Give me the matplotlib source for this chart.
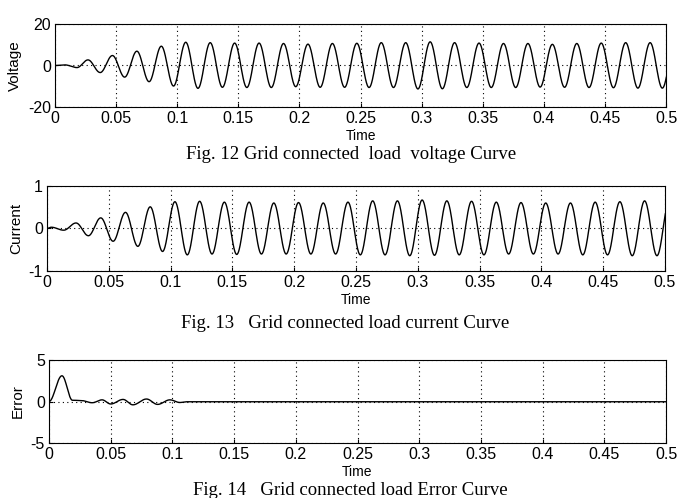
import numpy as np
import matplotlib
matplotlib.use('Agg')
import matplotlib.pyplot as plt

# extrema (time, value); curve drawn as half-cosines between them
volt_t = [0.0, 0.008, 0.018, 0.027, 0.037, 0.047, 0.057, 0.067, 0.077, 0.087, 0.097,
          0.107, 0.117, 0.127, 0.137, 0.147, 0.157, 0.167, 0.177, 0.187, 0.197,
          0.207, 0.217, 0.227, 0.237, 0.247, 0.257, 0.267, 0.277, 0.287, 0.297,
          0.307, 0.317, 0.327, 0.337, 0.347, 0.357, 0.367, 0.377, 0.387, 0.397,
          0.407, 0.417, 0.427, 0.437, 0.447, 0.457, 0.467, 0.477, 0.487, 0.497, 0.507]
volt_v = [0.0, 0.3, -1.0, 2.7, -3.4, 4.8, -5.6, 6.9, -7.8, 9.3, -9.9,
          11.2, -11.0, 11.0, -10.5, 10.8, -10.6, 10.8, -10.6, 10.6, -10.2,
          10.3, -10.5, 10.6, -10.5, 10.7, -10.6, 11.0, -10.6, 11.0, -11.3,
          11.4, -11.2, 11.0, -10.6, 10.8, -10.6, 10.6, -10.6, 10.6, -10.4,
          10.2, -10.5, 10.6, -10.6, 10.8, -10.7, 11.0, -10.9, 11.0, -10.9, 11.0]

curr_t = [0.0, 0.0035, 0.0135, 0.0235, 0.0335, 0.0435, 0.0535, 0.0635, 0.0735, 0.0835, 0.0935,
          0.1035, 0.1135, 0.1235, 0.1335, 0.1435, 0.1535, 0.1635, 0.1735, 0.1835, 0.1935,
          0.2035, 0.2135, 0.2235, 0.2335, 0.2435, 0.2535, 0.2635, 0.2735, 0.2835, 0.2935,
          0.3035, 0.3135, 0.3235, 0.3335, 0.3435, 0.3535, 0.3635, 0.3735, 0.3835, 0.3935,
          0.4035, 0.4135, 0.4235, 0.4335, 0.4435, 0.4535, 0.4635, 0.4735, 0.4835, 0.4935, 0.5035]
curr_v = [0.0, 0.03, -0.04, 0.13, -0.17, 0.25, -0.30, 0.38, -0.42, 0.51, -0.54,
          0.63, -0.62, 0.64, -0.60, 0.62, -0.61, 0.62, -0.60, 0.60, -0.60,
          0.61, -0.60, 0.60, -0.60, 0.62, -0.62, 0.65, -0.62, 0.65, -0.64,
          0.67, -0.63, 0.65, -0.62, 0.64, -0.62, 0.62, -0.60, 0.61, -0.60,
          0.60, -0.60, 0.60, -0.62, 0.62, -0.62, 0.63, -0.64, 0.65, -0.64, 0.65]

err_t = [0.0, 0.0105, 0.019, 0.026, 0.035, 0.043, 0.050, 0.060, 0.068, 0.079, 0.088,
         0.098, 0.106, 0.112, 0.5]
err_v = [0.0, 3.1, 0.15, 0.12, -0.15, 0.2, -0.3, 0.25, -0.4, 0.3, -0.35,
         0.2, -0.12, -0.03, -0.03]

xticks = [0, 0.05, 0.1, 0.15, 0.2, 0.25, 0.3, 0.35, 0.4, 0.45, 0.5]
xlabels = ['0', '0.05', '0.1', '0.15', '0.2', '0.25', '0.3', '0.35', '0.4', '0.45', '0.5']

captions = ['Fig. 12 Grid connected  load  voltage Curve',
            'Fig. 13   Grid connected load current Curve',
            'Fig. 14   Grid connected load Error Curve']


def smooth(t, v, n=40):
    # cosine easing between consecutive extrema
    xs, ys = [], []
    for i in range(len(t) - 1):
        s = np.linspace(0, 1, n, endpoint=False)
        w = (1 - np.cos(np.pi * s)) / 2
        xs.append(t[i] + (t[i + 1] - t[i]) * s)
        ys.append(v[i] + (v[i + 1] - v[i]) * w)
    xs.append([t[-1]])
    ys.append([v[-1]])
    return np.concatenate(xs), np.concatenate(ys)


plt.rcParams['font.family'] = ['Liberation Sans', 'DejaVu Sans']
plt.rcParams['axes.unicode_minus'] = False

fig = plt.figure(figsize=(6.84, 4.98), dpi=100)

W, H = 684, 498
boxes = [(55, 24, 666, 107), (47, 186, 665, 271), (49, 360, 666, 443)]
series = [(volt_t, volt_v, 'Voltage', 20),
          (curr_t, curr_v, 'Current', 1),
          (err_t, err_v, 'Error', 5)]
cap_y = [154, 324, 490]
cap_x = [351, 345, 350]

for k, ((x0, y0, x1, y1), (t, v, name, lim)) in enumerate(zip(boxes, series)):
    ax = fig.add_axes([x0 / W, 1 - y1 / H, (x1 - x0) / W, (y1 - y0) / H])
    xs, ys = smooth(t, v)
    ax.plot(xs, ys, color='black', lw=1.0)
    ax.set_xlim(0, 0.5)
    ax.set_ylim(-lim, lim)
    ax.set_xticks(xticks)
    ax.set_xticklabels(xlabels)
    ax.set_yticks([-lim, 0, lim])
    ax.grid(True, color='black', linestyle=(0, (1, 3)), linewidth=0.8)
    ax.tick_params(direction='in', length=3, labelsize=11.5, pad=3, colors='black')
    for sp in ax.spines.values():
        sp.set_linewidth(0.8)
    ax.set_xlabel('Time', fontsize=10, labelpad=2)
    ax.set_ylabel(name, fontsize=11, labelpad=4)
    fig.text(cap_x[k] / W, 1 - cap_y[k] / H, captions[k], ha='center', va='center',
             fontsize=13.5, family=['Liberation Serif', 'DejaVu Serif'])

fig.savefig('out.png', dpi=100)
